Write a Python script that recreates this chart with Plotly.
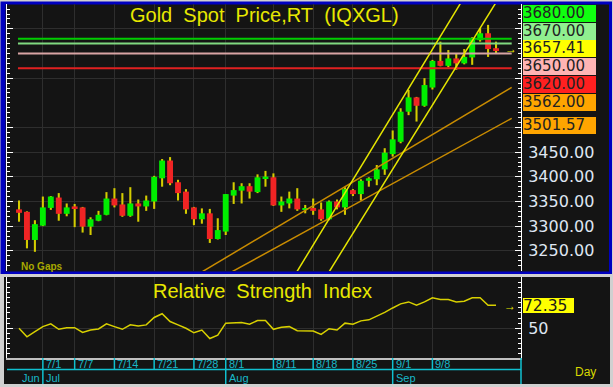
import plotly.graph_objects as go
import pandas as pd

# ---------------- data ----------------
dates = pd.bdate_range("2025-06-26", "2025-09-18")  # 61 trading days
idx = list(range(len(dates)))

opens = [3334, 3329, 3272, 3301, 3337, 3358, 3325, 3339, 3338, 3299,
         3311, 3323, 3356, 3344, 3321, 3346, 3340, 3350, 3397, 3433,
         3389, 3370, 3338, 3314, 3326, 3274, 3289, 3362, 3372, 3381,
         3369, 3397, 3399, 3342, 3346, 3356, 3334, 3337, 3334, 3314,
         3350, 3338, 3373, 3365, 3392, 3395, 3415, 3446, 3471, 3532,
         3561, 3544, 3581, 3635, 3625, 3640, 3630, 3642, 3677, 3691, 3660]
highs = [3352, 3330, 3312, 3360, 3361, 3367, 3346, 3345, 3339, 3318,
         3331, 3369, 3377, 3367, 3379, 3354, 3362, 3402, 3436, 3440,
         3394, 3375, 3339, 3336, 3335, 3316, 3365, 3389, 3387, 3387,
         3405, 3412, 3407, 3360, 3370, 3377, 3343, 3356, 3348, 3352,
         3354, 3379, 3375, 3395, 3399, 3424, 3458, 3494, 3539, 3576,
         3562, 3600, 3637, 3674, 3657, 3651, 3659, 3683, 3701, 3708, 3674]
lows = [3309, 3255, 3248, 3300, 3333, 3311, 3320, 3298, 3287, 3282,
        3310, 3322, 3338, 3319, 3319, 3309, 3331, 3335, 3380, 3383,
        3352, 3325, 3302, 3305, 3266, 3273, 3282, 3345, 3346, 3356,
        3367, 3380, 3341, 3329, 3336, 3331, 3326, 3323, 3311, 3312,
        3334, 3323, 3361, 3352, 3380, 3383, 3404, 3441, 3468, 3525,
        3512, 3542, 3577, 3624, 3622, 3617, 3628, 3627, 3674, 3643, 3651]
closes = [3327, 3272, 3304, 3338, 3360, 3325, 3338, 3337, 3299, 3314,
          3323, 3356, 3342, 3321, 3346, 3340, 3352, 3400, 3433, 3387,
          3367, 3334, 3314, 3326, 3274, 3292, 3365, 3373, 3381, 3370,
          3399, 3400, 3342, 3350, 3356, 3334, 3335.5, 3331, 3314, 3350,
          3338, 3375, 3365, 3392, 3397, 3415, 3449, 3476, 3532, 3561,
          3544, 3586, 3635, 3625, 3640, 3630, 3643, 3679, 3691, 3659, 3657.41]
rsi = [50, 41.7, 46.7, 51.6, 54.3, 49, 50.6, 50.6, 46, 48.3,
       49.3, 54.3, 51.6, 49, 53.3, 52.3, 53.3, 60.5, 64.2, 56.6,
       53.3, 50, 45.6, 48.3, 40, 43.3, 55, 55.6, 55.6, 54,
       57.5, 57.5, 49, 51, 51.6, 47.6, 47.6, 47.3, 44, 49.6,
       48.3, 55, 54, 57.2, 58.2, 61.5, 65.5, 69.8, 73.8, 75.7,
       72.4, 75.7, 79.7, 78, 78, 75.7, 76.3, 79.7, 79.7, 72.4, 72.35]

tick_dates = ["2025-07-01", "2025-07-07", "2025-07-14", "2025-07-21", "2025-07-28",
              "2025-08-01", "2025-08-11", "2025-08-18", "2025-08-25", "2025-09-01", "2025-09-08"]
tick_labels = ["7/1", "7/7", "7/14", "7/21", "7/28", "8/1", "8/11", "8/18", "8/25", "9/1", "9/8"]
month_dates = ["2025-06-26", "2025-07-01", "2025-08-01", "2025-09-01"]
month_labels = ["Jun", "Jul", "Aug", "Sep"]

# drawn trend lines: (bar index, price) endpoints
yellow_trends = [[(33.0, 3156.0), (58.0, 3817.0)], [(37.0, 3155.3), (62.0, 3805.5)]]
orange_trends = [[(22.0, 3197.6), (61.97, 3581.4)], [(25.5, 3196.2), (61.97, 3518.6)]]
# horizontal levels
level_prices = [3680, 3670, 3650, 3620]
level_colors = ["#00cc00", "#80d880", "#d8a4a4", "#e02020"]
level_span = (-0.13, 61.97)

price_ticks = [3250, 3300, 3350, 3400, 3450, 3500, 3600, 3700]
price_ticktext = ["3250.00", "3300.00", "3350.00", "3400.00", "3450.00", "", "", ""]

box_texts = ["3680.00", "3670.00", "3657.41", "3650.00", "3620.00", "3562.00", "3501.57"]
box_colors = ["#10ff10", "#90f090", "#ffff00", "#ffb4b4", "#ff2020", "#ffa500", "#ffa500"]
box_centers_px = [13.2, 31.0, 48.8, 66.6, 84.4, 102.2, 125.3]
rsi_last_text = "72.35"

# ---------------- helpers ----------------
W, H = 613, 387
ML, MR, MT, MB = 7, 92, 4, 29
PW, PH = W - ML - MR, H - MT - MB


def xp(px):
    return (px - ML) / PW


def yp(py):
    return (H - MB - py) / PH


tick_idx = [dates.get_loc(pd.Timestamp(d)) for d in tick_dates]
month_idx = [dates.get_loc(pd.Timestamp(d)) for d in month_dates]

DARK = "#141414"
GRID = "#2e2e2e"
FONT = "Arial, Liberation Sans, sans-serif"
NUMFONT = "DejaVu Sans, Arial, sans-serif"
GREEN = "#00ee00"
RED = "#f02424"
WICK = "#d4cc00"

fig = go.Figure()

# wicks
fig.add_trace(go.Bar(x=idx, base=lows, y=[h - l for h, l in zip(highs, lows)], width=0.26,
                     marker=dict(color=WICK, line=dict(width=0)), xaxis="x", yaxis="y",
                     hoverinfo="skip"))
# bodies
bases, hts, cols = [], [], []
for o, c in zip(opens, closes):
    h = abs(c - o)
    mh = max(h, 4)
    bases.append(min(o, c) - (mh - h) / 2)
    hts.append(mh)
    cols.append(GREEN if c >= o else RED)
fig.add_trace(go.Bar(x=idx, base=bases, y=hts, width=0.74,
                     marker=dict(color=cols, line=dict(width=0)), xaxis="x", yaxis="y"))

# level lines
for p, col in zip(level_prices, level_colors):
    fig.add_trace(go.Scatter(x=list(level_span), y=[p, p], mode="lines",
                             line=dict(color=col, width=2), xaxis="x", yaxis="y"))
# trend lines
for seg in orange_trends:
    fig.add_trace(go.Scatter(x=[seg[0][0], seg[1][0]], y=[seg[0][1], seg[1][1]], mode="lines",
                             line=dict(color="#c98c00", width=1.5), xaxis="x", yaxis="y"))
for seg in yellow_trends:
    fig.add_trace(go.Scatter(x=[seg[0][0], seg[1][0]], y=[seg[0][1], seg[1][1]], mode="lines",
                             line=dict(color="#e6e600", width=1.5), xaxis="x", yaxis="y"))

# RSI
fig.add_trace(go.Scatter(x=idx, y=rsi, mode="lines", line=dict(color="#d8d000", width=1.5),
                         xaxis="x2", yaxis="y2"))

shapes = [
    # main panel blue frame + dark fill
    dict(type="rect", xref="paper", yref="paper", x0=xp(0.5), x1=xp(612), y0=yp(274), y1=yp(1.5),
         fillcolor="#0000c0", line=dict(width=0), layer="below"),
    dict(type="rect", xref="paper", yref="paper", x0=xp(5.5), x1=xp(609), y0=yp(271.5), y1=yp(4.5),
         fillcolor=DARK, line=dict(width=0), layer="below"),
    # RSI panel dark fill
    dict(type="rect", xref="paper", yref="paper", x0=xp(4), x1=xp(610), y0=yp(384), y1=yp(277),
         fillcolor=DARK, line=dict(width=0), layer="below"),
    # cyan date strip
    dict(type="line", xref="paper", yref="paper", x0=0, x1=1, y0=yp(369.5), y1=yp(369.5),
         line=dict(color="#10c0d0", width=1.5)),
    dict(type="line", xref="paper", yref="paper", x0=1, x1=1, y0=yp(358), y1=yp(384),
         line=dict(color="#10c0d0", width=1.5)),
]
for ti in tick_idx:
    bottom = 384 if ti in month_idx else 369.5
    shapes.append(dict(type="line", xref="x2", yref="paper", x0=ti, x1=ti, y0=yp(358), y1=yp(bottom),
                       line=dict(color="#10c0d0", width=1.5)))

annotations = [
    dict(text="Gold\u00a0\u00a0Spot\u00a0\u00a0Price,RT\u00a0\u00a0(IQXGL)", xref="paper", yref="paper",
         x=xp(264), y=yp(14.5), xanchor="center", yanchor="middle", showarrow=False,
         font=dict(family=FONT, size=20, color="#e8e800")),
    dict(text="Relative\u00a0\u00a0Strength\u00a0\u00a0Index", xref="paper", yref="paper",
         x=xp(262), y=yp(290.5), xanchor="center", yanchor="middle", showarrow=False,
         font=dict(family=FONT, size=20, color="#e8e800")),
    dict(text="<b>No Gaps</b>", xref="paper", yref="paper", x=xp(19), y=yp(266.5),
         xanchor="left", yanchor="middle", showarrow=False,
         font=dict(family=FONT, size=10, color="#a8a800")),
    dict(text="Day", xref="paper", yref="paper", x=xp(573), y=yp(372),
         xanchor="left", yanchor="middle", showarrow=False,
         font=dict(family=FONT, size=12, color="#d8d800")),
    dict(text="\u2192", xref="paper", yref="paper", x=xp(511), y=yp(49),
         xanchor="center", yanchor="middle", showarrow=False,
         font=dict(family=FONT, size=12, color="#e8e800")),
    dict(text="\u2192", xref="paper", yref="paper", x=xp(510), y=yp(305.5),
         xanchor="center", yanchor="middle", showarrow=False,
         font=dict(family=FONT, size=12, color="#e8e800")),
    dict(text=rsi_last_text, xref="paper", yref="paper", x=xp(522.7), y=yp(305.6),
         xanchor="left", yanchor="middle", showarrow=False, bgcolor="#ffff00",
         width=51, height=15, align="left", borderpad=0, borderwidth=0,
         font=dict(family=NUMFONT, size=15.5, color="#1a1a1a")),
]
for t, c, cy in zip(box_texts, box_colors, box_centers_px):
    annotations.append(dict(text=t, xref="paper", yref="paper", x=xp(522.7), y=yp(cy),
                            xanchor="left", yanchor="middle", showarrow=False, bgcolor=c,
                            width=73, height=16.8, align="left", borderpad=0, borderwidth=0,
                            font=dict(family=NUMFONT, size=15, color="#222222")))
for ti, lab in zip(tick_idx, tick_labels):
    annotations.append(dict(text=lab, xref="x2", yref="paper", x=ti, y=yp(364),
                            xanchor="left", yanchor="middle", xshift=1, showarrow=False,
                            font=dict(family=FONT, size=11, color="#18b8c8")))
for mi, lab in zip(month_idx, month_labels):
    annotations.append(dict(text=lab, xref="x2", yref="paper", x=mi, y=yp(377.5),
                            xanchor="left", yanchor="middle", xshift=1, showarrow=False,
                            font=dict(family=FONT, size=11, color="#18b8c8")))

xcommon = dict(range=[-1.51, 63.14], tickvals=tick_idx, showticklabels=False, ticks="",
               showgrid=True, gridcolor=GRID, gridwidth=1, zeroline=False, fixedrange=True)

fig.update_layout(
    width=W, height=H, margin=dict(l=ML, r=MR, t=MT, b=MB),
    paper_bgcolor="#d0d0d0", plot_bgcolor="rgba(0,0,0,0)",
    showlegend=False, barmode="overlay",
    xaxis=dict(domain=[0, 1], anchor="y", showline=False, **xcommon),
    xaxis2=dict(domain=[0, 1], anchor="y2", showline=True, linecolor="#c0c0c0", linewidth=2, **xcommon),
    yaxis=dict(domain=[yp(271), 1], range=[3209.1, 3750.3], side="right", anchor="x",
               tickvals=price_ticks, ticktext=price_ticktext, ticks="inside", ticklen=6,
               tickcolor="white", tickwidth=1, showline=True, linecolor="white", linewidth=1,
               mirror="ticks", showgrid=True, gridcolor=GRID, gridwidth=1, zeroline=False,
               minor=dict(dtick=10, tick0=3200, ticks="inside", ticklen=3, tickcolor="white",
                          showgrid=False),
               tickfont=dict(family=NUMFONT, size=16, color="#dfe6f2"), ticklabelstandoff=3,
               fixedrange=True),
    yaxis2=dict(domain=[0, yp(277)], range=[21, 100], side="right", anchor="x2",
                tickvals=[50], ticktext=["50"], ticks="inside", ticklen=6,
                tickcolor="white", tickwidth=1, showline=True, linecolor="white", linewidth=1,
                mirror="ticks", showgrid=True, gridcolor=GRID, gridwidth=1, zeroline=False,
                minor=dict(dtick=5, tick0=0, ticks="inside", ticklen=3, tickcolor="white",
                           showgrid=False),
                tickfont=dict(family=NUMFONT, size=16, color="#dfe6f2"), ticklabelstandoff=3,
                fixedrange=True),
    shapes=shapes, annotations=annotations,
)

fig.write_html("out.html")
